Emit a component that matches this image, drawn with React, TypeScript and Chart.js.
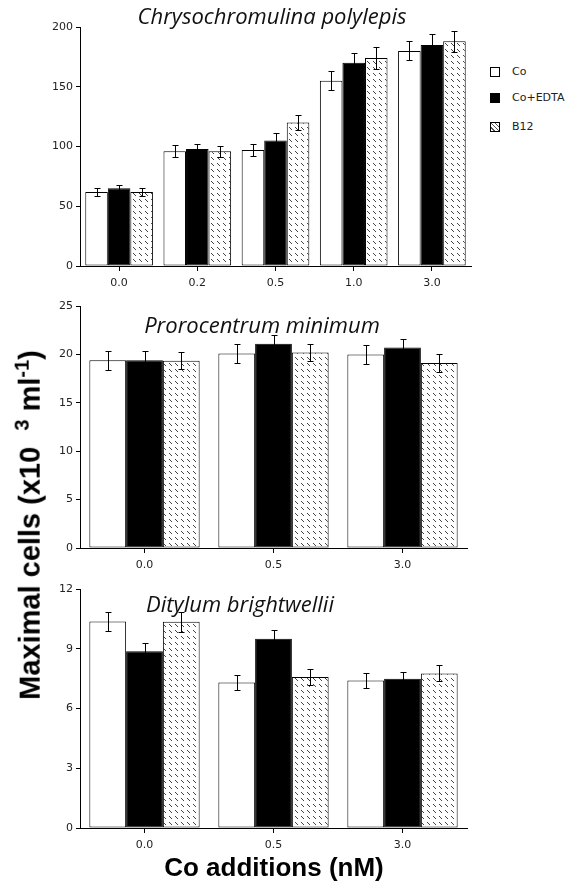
import React, { useEffect, useRef } from "react";
import { Chart, registerables } from "chart.js";
Chart.register(...registerables);

// ---------- data ----------
const seriesNames = ["Co", "Co+EDTA", "B12"];

const chrysoCategories = ["0.0", "0.2", "0.5", "1.0", "3.0"];
const chrysoCo = [62, 96, 97, 155, 180];
const chrysoCoEdta = [65, 98, 105, 170, 185];
const chrysoB12 = [62, 96, 120, 174, 188];
const chrysoCoErr = [3.5, 5, 5, 8, 8];
const chrysoCoEdtaErr = [3, 4, 6, 8.5, 9];
const chrysoB12Err = [3.5, 4.5, 6, 9, 9];

const proroCategories = ["0.0", "0.5", "3.0"];
const proroCo = [19.4, 20.1, 20.0];
const proroCoEdta = [19.4, 21.1, 20.7];
const proroB12 = [19.35, 20.2, 19.1];
const proroCoErr = [1, 1, 0.95];
const proroCoEdtaErr = [0.9, 0.9, 0.85];
const proroB12Err = [0.9, 0.9, 0.9];

const dityCategories = ["0.0", "0.5", "3.0"];
const dityCo = [10.37, 7.31, 7.41];
const dityCoEdta = [8.87, 9.5, 7.5];
const dityB12 = [10.35, 7.58, 7.76];
const dityCoErr = [0.5, 0.38, 0.37];
const dityCoEdtaErr = [0.42, 0.45, 0.33];
const dityB12Err = [0.5, 0.4, 0.4];

const chrysoAxis = { max: 200, step: 50 };
const proroAxis = { max: 25, step: 5 };
const dityAxis = { max: 12, step: 3 };

// ---------- helpers ----------
function makePattern(): CanvasPattern | string {
  const tile = document.createElement("canvas");
  tile.width = 6;
  tile.height = 6;
  const c = tile.getContext("2d");
  if (!c) return "#ccc";
  c.fillStyle = "#fff";
  c.fillRect(0, 0, 6, 6);
  c.fillStyle = "#444";
  c.fillRect(1, 1, 1, 1);
  c.fillRect(2, 2, 1, 1);
  c.fillRect(3, 3, 1, 1);
  const p = c.createPattern(tile, "repeat");
  return p || "#ccc";
}

const errorBarPlugin = {
  id: "errorBars",
  afterDatasetsDraw(chart: any) {
    const ctx = chart.ctx;
    const yScale = chart.scales.y;
    const cap = chart.options.plugins.errorBars?.cap ?? 6;
    ctx.save();
    ctx.strokeStyle = "#000";
    ctx.lineWidth = 1;
    chart.data.datasets.forEach((ds: any, i: number) => {
      const meta = chart.getDatasetMeta(i);
      meta.data.forEach((el: any, j: number) => {
        const v = ds.data[j];
        const e = ds.errors[j];
        const x = Math.round(el.x) + 0.5;
        const yHi = Math.round(yScale.getPixelForValue(v + e)) + 0.5;
        const yLo = Math.round(yScale.getPixelForValue(v - e)) + 0.5;
        ctx.beginPath();
        ctx.moveTo(x, yHi);
        ctx.lineTo(x, yLo);
        ctx.moveTo(x - cap / 2, yHi);
        ctx.lineTo(x + cap / 2, yHi);
        ctx.moveTo(x - cap / 2, yLo);
        ctx.lineTo(x + cap / 2, yLo);
        ctx.stroke();
      });
    });
    ctx.restore();
  },
};

const tickFont = { family: "'DejaVu Sans', sans-serif", size: 11 };

function buildConfig(
  labels: string[],
  co: number[],
  edta: number[],
  b12: number[],
  coErr: number[],
  edtaErr: number[],
  b12Err: number[],
  axis: { max: number; step: number },
  pattern: any,
  catPct: number,
  padding: { left: number; right: number; top: number; bottom: number },
  cap: number
): any {
  const common = {
    borderColor: "#000",
    borderWidth: 1,
    borderSkipped: false,
    barPercentage: 1,
    categoryPercentage: catPct,
  };
  return {
    type: "bar",
    data: {
      labels,
      datasets: [
        { label: seriesNames[0], data: co, errors: coErr, backgroundColor: "#fff", ...common },
        { label: seriesNames[1], data: edta, errors: edtaErr, backgroundColor: "#000", ...common },
        { label: seriesNames[2], data: b12, errors: b12Err, backgroundColor: pattern, ...common },
      ],
    },
    options: {
      responsive: false,
      animation: false,
      devicePixelRatio: 1,
      layout: { padding },
      plugins: {
        legend: { display: false },
        tooltip: { enabled: false },
        title: { display: false },
        errorBars: { cap },
      },
      scales: {
        x: {
          grid: {
            display: true,
            drawOnChartArea: false,
            drawTicks: true,
            tickLength: 5,
            offset: false,
            color: "#000",
          },
          border: { display: true, color: "#000", width: 1 },
          ticks: { color: "#222", font: tickFont, padding: 6, maxRotation: 0 },
          afterFit: (s: any) => {
            s.height = 24;
          },
        },
        y: {
          min: 0,
          max: axis.max,
          grid: {
            display: true,
            drawOnChartArea: false,
            drawTicks: true,
            tickLength: 4,
            color: "#000",
          },
          border: { display: true, color: "#000", width: 1 },
          ticks: { stepSize: axis.step, color: "#222", font: tickFont, padding: 3 },
          afterFit: (s: any) => {
            s.width = 80;
          },
        },
      },
    },
    plugins: [errorBarPlugin],
  };
}

const abs = (left: number, top: number): React.CSSProperties => ({
  position: "absolute",
  left,
  top,
});

const titleStyle = (x: number, y: number): React.CSSProperties => ({
  position: "absolute",
  left: x,
  top: y,
  transform: "translate(-50%, -50%)",
  fontFamily: "'Open Sans', sans-serif",
  fontStyle: "italic",
  fontSize: 22,
  color: "#111",
  whiteSpace: "nowrap",
  lineHeight: 1,
});

const legendItem = (top: number): React.CSSProperties => ({
  position: "absolute",
  left: 490,
  top: top - 6,
  display: "flex",
  alignItems: "center",
  fontFamily: "'DejaVu Sans', sans-serif",
  fontSize: 11,
  color: "#222",
  whiteSpace: "nowrap",
  lineHeight: "12px",
  height: 12,
});

const swatch = (bg: string): React.CSSProperties => ({
  width: 10,
  height: 10,
  border: "1px solid #000",
  background: bg,
  marginRight: 12,
  boxSizing: "border-box",
});

export default function App() {
  const r1 = useRef<HTMLCanvasElement>(null);
  const r2 = useRef<HTMLCanvasElement>(null);
  const r3 = useRef<HTMLCanvasElement>(null);

  useEffect(() => {
    const pattern = makePattern();
    const c1 = new Chart(
      r1.current as HTMLCanvasElement,
      buildConfig(
        chrysoCategories, chrysoCo, chrysoCoEdta, chrysoB12,
        chrysoCoErr, chrysoCoEdtaErr, chrysoB12Err,
        chrysoAxis, pattern, 0.865,
        { left: 0, right: 9, top: 27, bottom: 10 }, 6
      )
    );
    const c2 = new Chart(
      r2.current as HTMLCanvasElement,
      buildConfig(
        proroCategories, proroCo, proroCoEdta, proroB12,
        proroCoErr, proroCoEdtaErr, proroB12Err,
        proroAxis, pattern, 0.855,
        { left: 0, right: 13, top: 16, bottom: 8 }, 6
      )
    );
    const c3 = new Chart(
      r3.current as HTMLCanvasElement,
      buildConfig(
        dityCategories, dityCo, dityCoEdta, dityB12,
        dityCoErr, dityCoEdtaErr, dityB12Err,
        dityAxis, pattern, 0.855,
        { left: 0, right: 13, top: 14, bottom: 13 }, 6
      )
    );
    return () => {
      c1.destroy();
      c2.destroy();
      c3.destroy();
    };
  }, []);

  return (
    <div style={{ position: "absolute", left: 0, top: 0, width: 577, height: 883, background: "#fff", overflow: "hidden" }}>
      <canvas ref={r1} width={480} height={300} style={abs(0, 0)} />
      <canvas ref={r2} width={480} height={290} style={abs(0, 290)} />
      <canvas ref={r3} width={480} height={290} style={abs(0, 575)} />

      <div style={titleStyle(272, 15)}>Chrysochromulina polylepis</div>
      <div style={titleStyle(262, 324)}>Prorocentrum minimum</div>
      <div style={titleStyle(240, 603)}>Ditylum brightwellii</div>

      <div style={legendItem(72)}>
        <div style={swatch("#fff")} />
        <span>{seriesNames[0]}</span>
      </div>
      <div style={legendItem(98)}>
        <div style={swatch("#000")} />
        <span>{seriesNames[1]}</span>
      </div>
      <div style={legendItem(127)}>
        <div style={swatch("repeating-linear-gradient(45deg, #fff 0 2px, #555 2px 3px)")} />
        <span>{seriesNames[2]}</span>
      </div>

      <div
        style={{
          position: "absolute",
          left: 28,
          top: 525,
          transform: "translate(-50%, -50%) rotate(-90deg)",
          fontFamily: "'Liberation Sans', Arial, sans-serif",
          fontWeight: "bold",
          fontSize: 29,
          color: "#000",
          whiteSpace: "pre",
          lineHeight: 1,
        }}
      >
        Maximal cells (x10  <sup style={{ fontSize: 20 }}>3</sup> ml<sup style={{ fontSize: 20 }}>-1</sup>)
      </div>

      <div
        style={{
          position: "absolute",
          left: 274,
          top: 867,
          transform: "translate(-50%, -50%)",
          fontFamily: "'Liberation Sans', Arial, sans-serif",
          fontWeight: "bold",
          fontSize: 26,
          color: "#000",
          whiteSpace: "nowrap",
          lineHeight: 1,
        }}
      >
        Co additions (nM)
      </div>
    </div>
  );
}
